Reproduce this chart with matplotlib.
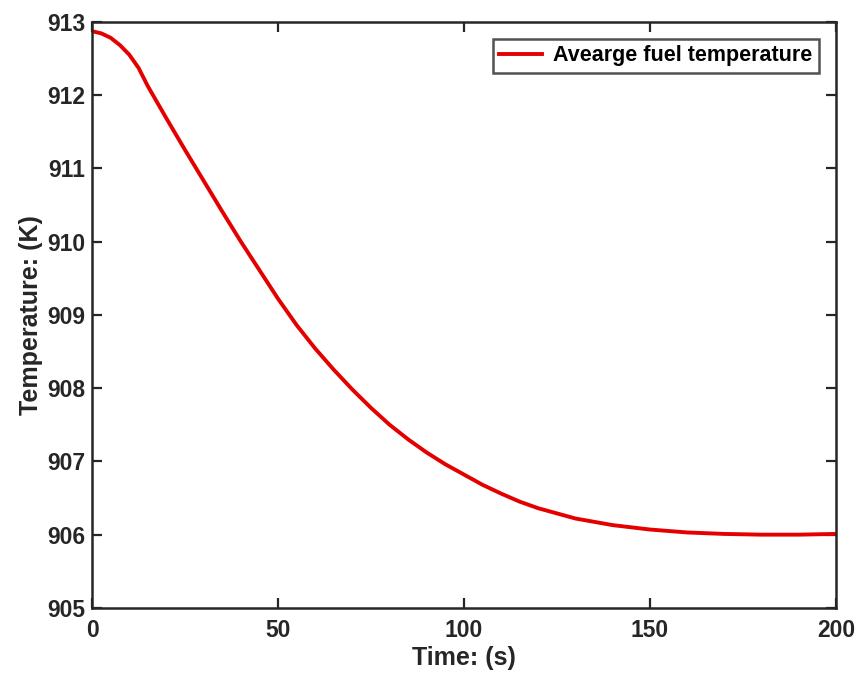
import matplotlib
matplotlib.use('Agg')
import matplotlib.pyplot as plt

# time (s) and average fuel temperature (K)
time_s = [0, 2.5, 5, 7.5, 10, 12.5, 15, 17.5, 20, 25, 30, 35, 40, 45, 50,
          55, 60, 65, 70, 75, 80, 85, 90, 95, 100, 105, 110, 115, 120, 130,
          140, 150, 160, 170, 180, 190, 200]
temp_k = [912.87, 912.84, 912.78, 912.68, 912.55, 912.37, 912.12, 911.90,
          911.68, 911.25, 910.83, 910.41, 910.00, 909.61, 909.22, 908.86,
          908.54, 908.25, 907.98, 907.73, 907.50, 907.30, 907.12, 906.96,
          906.82, 906.68, 906.56, 906.45, 906.36, 906.22, 906.13, 906.07,
          906.03, 906.01, 906.00, 906.00, 906.01]
x_ticks = [0, 50, 100, 150, 200]
y_ticks = [905, 906, 907, 908, 909, 910, 911, 912, 913]

plt.rcParams['font.family'] = ['Liberation Sans', 'DejaVu Sans']
plt.rcParams['font.weight'] = 'bold'
dark = '#262626'

fig = plt.figure(figsize=(8.6, 6.77), dpi=100)
ax = fig.add_axes([0.107, 0.102, 0.865, 0.866])

ax.plot(time_s, temp_k, color='#e50000', linewidth=2.8,
        label='Avearge fuel temperature')

ax.set_xlim(0, 200)
ax.set_ylim(905, 913)
ax.set_xticks(x_ticks)
ax.set_yticks(y_ticks)
ax.tick_params(direction='in', length=7, width=1.6, top=True, right=True,
               labelsize=16.5, colors=dark)
ax.tick_params(axis='x', pad=8)
ax.tick_params(axis='y', pad=5)
for lbl in ax.get_xticklabels() + ax.get_yticklabels():
    lbl.set_fontweight('bold')
for sp in ax.spines.values():
    sp.set_linewidth(1.8)
    sp.set_color(dark)

ax.set_xlabel('Time: (s)', fontsize=18, fontweight='bold', color=dark, labelpad=3)
ax.set_ylabel('Temperature: (K)', fontsize=18, fontweight='bold', color=dark, labelpad=3)

leg = ax.legend(loc='upper right', fontsize=15.5, frameon=True, fancybox=False,
                borderaxespad=0.8, handlelength=2.0, handletextpad=0.5,
                borderpad=0.3)
leg.get_frame().set_edgecolor(dark)
leg.get_frame().set_linewidth(1.8)
for t in leg.get_texts():
    t.set_fontweight('bold')

fig.savefig('out.png', dpi=100)
